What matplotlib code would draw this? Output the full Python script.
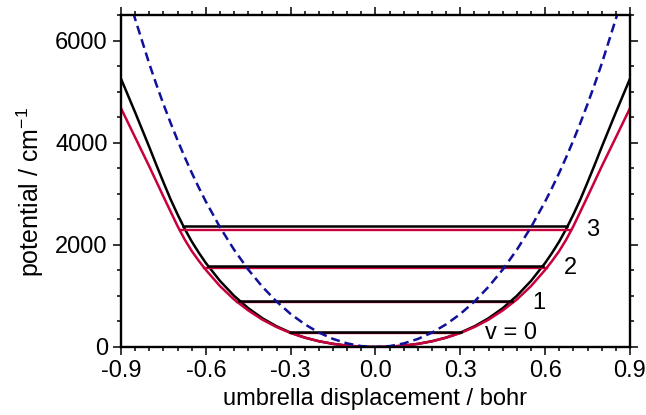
import numpy as np
import matplotlib.pyplot as plt
from matplotlib.ticker import MultipleLocator, FormatStrFormatter

plt.rcParams['font.family'] = ['Liberation Sans', 'DejaVu Sans']
plt.rcParams['mathtext.fontset'] = 'custom'
plt.rcParams['mathtext.rm'] = 'Liberation Sans'
plt.rcParams['axes.unicode_minus'] = False

# Potential curves (symmetric, x >= 0 half)
x_half = [0.0, 0.05, 0.1, 0.15, 0.2, 0.25, 0.3, 0.35, 0.4, 0.45,
          0.5, 0.55, 0.6, 0.625, 0.65, 0.675, 0.7, 0.725, 0.75, 0.775,
          0.8, 0.85, 0.9]
v_black = [0, 6.5, 26.5, 61, 113, 185, 281, 406, 564, 761,
           1003, 1296, 1647, 1850, 2070, 2320, 2600, 2900, 3230, 3570,
           3920, 4600, 5260]
v_red = [0, 6.5, 26, 61, 112, 182, 273, 391, 536, 717,
         931, 1194, 1512, 1690, 1883, 2110, 2370, 2660, 2950, 3245,
         3540, 4110, 4681]
v_blue = [0, 17, 70, 158, 282, 445, 647, 892, 1181, 1518,
          1906, 2349, 2852, 3127, 3418, 3727, 4054, 4399, 4764, 5148,
          5554, 6431, 7401]

# vibrational levels: energy and turning point
levels = ['v = 0', '1', '2', '3']
e_black = [290, 908, 1594, 2373]
x_black = [0.303, 0.482, 0.593, 0.679]
e_red = [278, 876, 1555, 2288]
x_red = [0.30, 0.488, 0.605, 0.693]

# level label positions
lab_x = [0.479, 0.578, 0.691, 0.769]
lab_y = [275, 853, 1539, 2294]

def mirror(xs, ys):
    xs = np.array(xs)
    ys = np.array(ys)
    return np.concatenate([-xs[:0:-1], xs]), np.concatenate([ys[:0:-1], ys])

black = 'black'
red = '#c8003c'
blue = '#10109a'

fig = plt.figure(figsize=(6.46, 4.15), dpi=100)
ax = fig.add_axes([0.1873, 0.1639, 0.7879, 0.7988])

xb, yb = mirror(x_half, v_black)
xr, yr = mirror(x_half, v_red)
xd, yd = mirror(x_half, v_blue)

ax.plot(xb, yb, color=black, lw=1.8)
ax.plot(xr, yr, color=red, lw=1.8)

for i in range(len(levels)):
    ax.plot([-x_red[i], x_red[i]], [e_red[i], e_red[i]], color=red, lw=1.7)
    ax.plot([-x_black[i], x_black[i]], [e_black[i], e_black[i]], color=black, lw=1.8)
    ax.text(lab_x[i], lab_y[i], levels[i], fontsize=17, ha='center', va='center')

ax.plot(xd, yd, color=blue, lw=1.8, dashes=(3.6, 2.0))

ax.set_xlim(-0.9, 0.9)
ax.set_ylim(0, 6500)
ax.xaxis.set_major_locator(MultipleLocator(0.3))
ax.xaxis.set_minor_locator(MultipleLocator(0.05))
ax.xaxis.set_major_formatter(FormatStrFormatter('%.1f'))
ax.yaxis.set_major_locator(MultipleLocator(2000))
ax.yaxis.set_minor_locator(MultipleLocator(500))

ax.tick_params(which='both', direction='out', top=True, right=True, width=1.1)
ax.tick_params(which='major', length=5.5, labelsize=17, pad=4)
ax.tick_params(which='minor', length=2.6)
ax.tick_params(axis='x', which='both', labeltop=False)
ax.tick_params(axis='y', which='both', labelright=False)
for s in ax.spines.values():
    s.set_linewidth(1.7)

ax.set_xlabel('umbrella displacement / bohr', fontsize=17, labelpad=4)
ax.set_ylabel('potential / cm$^{-1}$', fontsize=18)
ax.yaxis.set_label_coords(-0.147, 0.468)

fig.savefig('out.png', dpi=100)
